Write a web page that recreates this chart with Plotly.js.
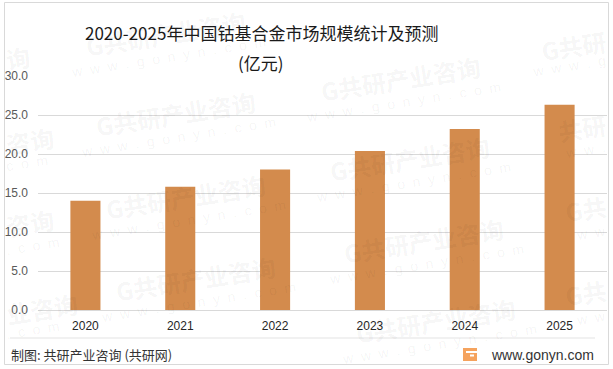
<!DOCTYPE html>
<html>
<head>
<meta charset="utf-8">
<script src="https://cdn.plot.ly/plotly-3.0.1.min.js"></script>
<style>html,body{margin:0;padding:0;background:#fff;}#chart{width:613px;height:369px;}</style>
</head>
<body>
<div id="chart"></div>
<script>
// ---- data ----
const years = ['2020', '2021', '2022', '2023', '2024', '2025'];
const marketSize = [14.0, 15.8, 18.0, 20.4, 23.2, 26.3];
const yTicks = [0, 5, 10, 15, 20, 25, 30];
const titleLine1 = '2020-2025年中国钴基合金市场规模统计及预测';
const titleLine2 = '(亿元)';
const sourceText = '制图: 共研产业咨询 (共研网)';
const siteText = 'www.gonyn.com';

// ---- layout helpers ----
const W = 613, H = 369;
const M = {l: 38, r: 6, t: 76, b: 59};
const PW = W - M.l - M.r, PH = H - M.t - M.b;
const px = x => (x - M.l) / PW;
const py = y => (H - M.b - y) / PH;

const CJK = 'Noto Sans CJK SC, Noto Sans, sans-serif';
const LAT = 'Liberation Sans, Arial, sans-serif';

const annotations = [];
const shapes = [];

// ---- decorative watermarks ----
const wmColor = 'rgba(0,0,0,0.05)';
const WM_MAIN = '<b>G共研产业咨询</b>';
const WM_SUB = 'w  w  w  .  g  o  n  y  n  .  c  o  m';
function wm(text, x, y, size, fam, xa) {
  annotations.push({xref: 'paper', yref: 'paper', x: px(x), y: py(y), xanchor: xa || 'center', yanchor: 'middle',
    text: text, showarrow: false, textangle: -9, font: {family: fam, size: size, color: wmColor}});
}
const wmFull = [[165, 33], [175, 113], [185, 196], [195, 278], [400, 78], [410, 158], [423, 240], [436, 320]];
wmFull.forEach(([x, y]) => { wm(WM_MAIN, x, y, 24, CJK); wm(WM_SUB, x + 3, y + 24, 14, LAT); });
// partial tiles at the left and right edges
[['<b>询</b>', 57], ['<b>咨询</b>', 140], ['<b>咨询</b>', 222], ['<b>业咨询</b>', 308]].forEach(([t, y]) => wm(t, 1, y, 24, CJK, 'left'));
[['c  o  m', 163], ['.  c  o  m', 246], ['.  c  o  m', 330]].forEach(([t, y]) => wm(t, 3, y, 14, LAT, 'left'));
[['<b>G共研</b>', 45], ['<b>共研</b>', 127], ['<b>G共</b>', 208], ['<b>G共</b>', 292]].forEach(([t, y]) => wm(t, 611, y, 24, CJK, 'right'));
[['w  w  w  .  g', 66], ['w  w  .', 150], ['w  w', 233], ['w  w', 318]].forEach(([t, y]) => wm(t, 609, y, 14, LAT, 'right'));

// ---- titles ----
annotations.push({xref: 'paper', yref: 'paper', x: px(261), y: py(32), xanchor: 'center', yanchor: 'middle',
  text: titleLine1, showarrow: false, font: {family: CJK, size: 17, color: '#1a1a1a'}});
annotations.push({xref: 'paper', yref: 'paper', x: px(261), y: py(63), xanchor: 'center', yanchor: 'middle',
  text: titleLine2, showarrow: false, font: {family: CJK, size: 17, color: '#1a1a1a'}});
// ---- footer ----
annotations.push({xref: 'paper', yref: 'paper', x: px(9), y: py(354), xanchor: 'left', yanchor: 'middle',
  text: sourceText, showarrow: false, font: {family: CJK, size: 13, color: '#333333'}});
annotations.push({xref: 'paper', yref: 'paper', x: px(596), y: py(355), xanchor: 'right', yanchor: 'middle',
  text: siteText, showarrow: false, font: {family: LAT, size: 14, color: '#333333'}});

// frame, separator, logo
shapes.push({type: 'rect', xref: 'paper', yref: 'paper', x0: px(4.5), x1: px(608.5), y0: py(2.5), y1: py(364.5),
  line: {color: '#d9d9d9', width: 1}, fillcolor: 'rgba(0,0,0,0)', layer: 'below'});
shapes.push({type: 'line', xref: 'paper', yref: 'paper', x0: px(10), x1: px(595), y0: py(338), y1: py(338),
  line: {color: '#e3e3e3', width: 1}});
shapes.push({type: 'rect', xref: 'paper', yref: 'paper', x0: px(463), x1: px(477), y0: py(348), y1: py(361),
  line: {width: 0}, fillcolor: '#f5a35e'});
shapes.push({type: 'rect', xref: 'paper', yref: 'paper', x0: px(466), x1: px(477), y0: py(351), y1: py(353),
  line: {width: 0}, fillcolor: '#ffffff'});
shapes.push({type: 'rect', xref: 'paper', yref: 'paper', x0: px(470), x1: px(474), y0: py(354.5), y1: py(356.5),
  line: {width: 0}, fillcolor: '#ffffff'});

const trace = {
  type: 'bar', x: years, y: marketSize,
  marker: {color: '#d38b4d', line: {width: 0}},
  hoverinfo: 'x+y'
};

const layout = {
  width: W, height: H,
  margin: M,
  paper_bgcolor: '#ffffff', plot_bgcolor: 'rgba(0,0,0,0)',
  showlegend: false,
  bargap: 0.683,
  xaxis: {type: 'category', ticks: '', showline: false, showgrid: false, zeroline: false,
    tickfont: {family: LAT, size: 12, color: '#262626'}, ticklabelstandoff: 7, fixedrange: true},
  yaxis: {range: [0, 30], tickvals: yTicks, tickformat: '.1f', ticks: '', showline: false,
    gridcolor: '#d9d9d9', gridwidth: 1, zeroline: true, zerolinecolor: '#d9d9d9', zerolinewidth: 1,
    tickfont: {family: LAT, size: 12, color: '#595959'}, ticklabelstandoff: 9, fixedrange: true},
  annotations: annotations,
  shapes: shapes
};

Plotly.newPlot('chart', [trace], layout, {displayModeBar: false, staticPlot: true});
</script>
</body>
</html>
